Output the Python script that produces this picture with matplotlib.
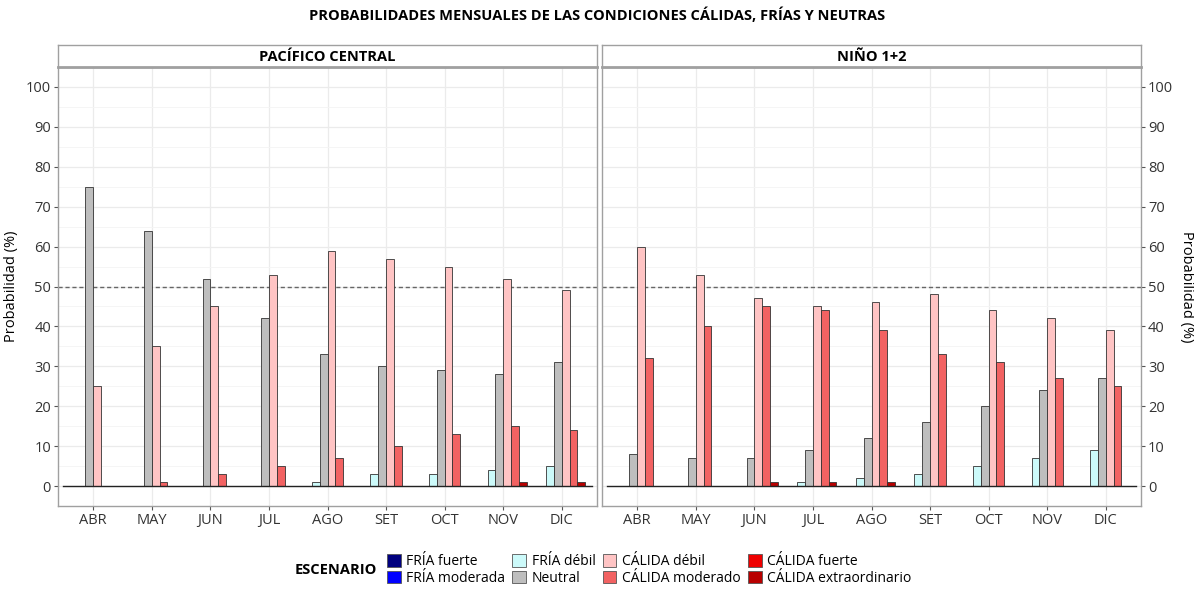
import numpy as np
import matplotlib
matplotlib.use("Agg")
import matplotlib.pyplot as plt
from matplotlib.patches import Patch

plt.rcParams['font.family'] = ['Open Sans', 'DejaVu Sans']

meses = ["ABR", "MAY", "JUN", "JUL", "AGO", "SET", "OCT", "NOV", "DIC"]
paneles = ["PACÍFICO CENTRAL", "NIÑO 1+2"]

# escenarios (orden de la leyenda)
escenarios = ["FRÍA fuerte", "FRÍA moderada", "FRÍA débil", "Neutral",
              "CÁLIDA débil", "CÁLIDA moderado", "CÁLIDA fuerte", "CÁLIDA extraordinario"]
colores = ["#00007F", "#0000FF", "#CCFAFA", "#BEBEBE",
           "#FFC4C4", "#F26262", "#EE0000", "#B80000"]

# Pacífico central
pc_fria_debil = [0, 0, 0, 0, 1, 3, 3, 4, 5]
pc_neutral = [75, 64, 52, 42, 33, 30, 29, 28, 31]
pc_calida_debil = [25, 35, 45, 53, 59, 57, 55, 52, 49]
pc_calida_moderado = [0, 1, 3, 5, 7, 10, 13, 15, 14]
pc_calida_extra = [0, 0, 0, 0, 0, 0, 0, 1, 1]

# Niño 1+2
n12_fria_debil = [0, 0, 0, 1, 2, 3, 5, 7, 9]
n12_neutral = [8, 7, 7, 9, 12, 16, 20, 24, 27]
n12_calida_debil = [60, 53, 47, 45, 46, 48, 44, 42, 39]
n12_calida_moderado = [32, 40, 45, 44, 39, 33, 31, 27, 25]
n12_calida_extra = [0, 0, 1, 1, 1, 0, 0, 0, 0]

# series dibujadas: (indice de escenario, valores) en orden de dodge
series_pc = [(2, pc_fria_debil), (3, pc_neutral), (4, pc_calida_debil),
             (5, pc_calida_moderado), (7, pc_calida_extra)]
series_n12 = [(2, n12_fria_debil), (3, n12_neutral), (4, n12_calida_debil),
              (5, n12_calida_moderado), (7, n12_calida_extra)]

W, H = 1194, 592
fig = plt.figure(figsize=(W / 100, H / 100), dpi=100)

def px(x0, y0, x1, y1):
    return [x0 / W, 1 - y1 / H, (x1 - x0) / W, (y1 - y0) / H]

fig.text(597 / W, 1 - 15 / H, "PROBABILIDADES MENSUALES DE LAS CONDICIONES CÁLIDAS, FRÍAS Y NEUTRAS",
         ha='center', va='center', fontsize=10.5, fontweight='bold')

n_slots = 6
bw = 0.8 / n_slots
x = np.arange(1, len(meses) + 1)
grid_c = "#EBEBEB"

for k, (series, nombre) in enumerate([(series_pc, paneles[0]), (series_n12, paneles[1])]):
    x0 = 58 if k == 0 else 602
    ax = fig.add_axes(px(x0, 67, x0 + 539, 506))
    ax.set_xlim(0.4, len(meses) + 0.6)
    ax.set_ylim(-5, 105)
    ax.set_yticks(np.arange(0, 101, 10))
    ax.set_yticks(np.arange(5, 101, 10), minor=True)
    ax.set_xticks(x)
    ax.set_xticklabels(meses)
    ax.grid(True, which='major', color=grid_c, lw=0.9, zorder=0)
    ax.grid(True, which='minor', axis='y', color="#F4F4F4", lw=0.6, zorder=0)
    ax.set_axisbelow(True)
    for s in ax.spines.values():
        s.set_color("#A0A0A0")
        s.set_linewidth(1.0)
    ax.tick_params(which='minor', length=0)
    ax.tick_params(which='major', length=3, color="#555555", labelsize=10.5,
                   labelcolor="#333333", pad=2)
    for slot, (idx, vals) in enumerate(series, start=1):
        off = (slot - (n_slots - 1) / 2) * bw
        ax.bar(x + off, vals, width=bw, color=colores[idx], edgecolor="#333333",
               linewidth=0.6, zorder=3)
    ax.plot([0.48, len(meses) + 0.52], [0, 0], color="#222222", lw=1.0, zorder=4)
    ax.axhline(50, color="#666666", lw=1.0, ls=(0, (3, 2)), zorder=2)
    if k == 0:
        ax.set_ylabel("Probabilidad (%)", fontsize=10.5, labelpad=5)
    else:
        ax.yaxis.tick_right()
        ax.yaxis.set_label_position("right")
        ax.set_ylabel("Probabilidad (%)", fontsize=10.5, rotation=-90, labelpad=15)

    sax = fig.add_axes(px(x0, 45, x0 + 539, 67))
    sax.set_xticks([])
    sax.set_yticks([])
    for s in sax.spines.values():
        s.set_color("#A0A0A0")
        s.set_linewidth(1.0)
    sax.spines['bottom'].set_linewidth(2.0)
    sax.text(0.5, 0.45, nombre, ha='center', va='center', fontsize=10.5,
             fontweight='bold', transform=sax.transAxes)

handles = [Patch(facecolor=c, edgecolor="#555555", linewidth=0.6, label=e)
           for e, c in zip(escenarios, colores)]
fig.text(336 / W, 1 - 570 / H, "ESCENARIO", ha='center', va='center',
         fontsize=10.5, fontweight='bold')
fig.legend(handles=handles, ncol=4, loc='center left',
           bbox_to_anchor=(380 / W, 1 - 570 / H), frameon=False, fontsize=10,
           handlelength=1.0, handleheight=1.0, handletextpad=0.4,
           columnspacing=0.5, labelspacing=0.1, borderpad=0)

fig.savefig("out.png", dpi=100)
